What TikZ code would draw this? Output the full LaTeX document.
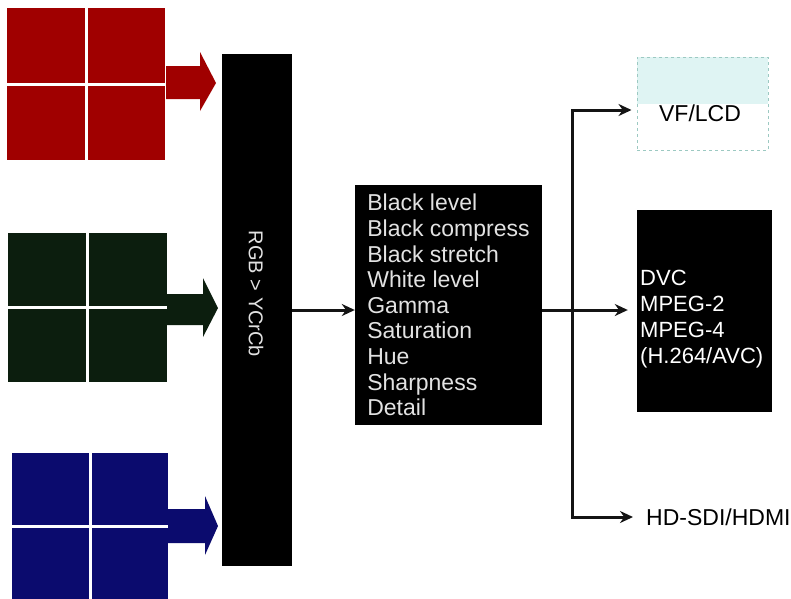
\documentclass[tikz,border=0pt]{standalone}
\usepackage{fontspec}
\setmainfont{Liberation Sans}
\usetikzlibrary{arrows.meta}
\definecolor{cred}{HTML}{A00000}
\definecolor{cgreen}{HTML}{0C1E0E}
\definecolor{cblue}{HTML}{0B0B6E}
\definecolor{cyanfill}{HTML}{DFF4F3}
\definecolor{dashc}{HTML}{9CC9C2}
\definecolor{lgray}{HTML}{E2E2E2}
\definecolor{linec}{HTML}{141414}
\begin{document}
\begin{tikzpicture}[x=1pt,y=-1pt,
  sq/.style={inner sep=0pt, draw=none},
  crossline/.style={white, line width=3pt},
  blackbox/.style={fill=black, inner sep=0pt},
  conn/.style={draw=linec, line width=3pt, line join=miter, -{Stealth[length=13pt,width=12pt]}},
  bigtext/.style={font=\fontsize{23}{25.6}\selectfont}
]
\useasboundingbox (0,0) rectangle (791,598);
\fill[white] (0,0) rectangle (791,598);

% colour squares
\node[sq, fill=cred, minimum width=158pt, minimum height=152pt] (R) at (86,84) {};
\draw[crossline] (R.north) -- (R.south);
\draw[crossline] (R.west) -- (R.east);
\node[sq, fill=cgreen, minimum width=159pt, minimum height=149pt] (G) at (87.5,307.5) {};
\draw[crossline] (G.north) -- (G.south);
\draw[crossline] (G.west) -- (G.east);
\node[sq, fill=cblue, minimum width=156pt, minimum height=147pt] (B) at (90,526.5) {};
\draw[crossline] (B.north) -- (B.south);
\draw[crossline] (B.west) -- (B.east);

% block arrows
\fill[cred] (166,66) -- (200,66) -- (200,52) -- (216,83) -- (200,111) -- (200,99) -- (166,99) -- cycle;
\fill[cgreen] (167,294) -- (203,294) -- (203,278) -- (218,308) -- (203,337) -- (203,325) -- (167,325) -- cycle;
\fill[cblue] (168,509) -- (205,509) -- (205,496) -- (218,526) -- (205,555) -- (205,543) -- (168,543) -- cycle;

% converter bar
\node[blackbox, minimum width=70pt, minimum height=512pt] (bar) at (257,310) {};
\node[rotate=-90, text=lgray, font=\fontsize{20}{24}\selectfont, inner sep=0pt] (bartext) at (256,294) {RGB > YCrCb};

% processing box
\node[blackbox, minimum width=187pt, minimum height=240pt, align=left, text=lgray, bigtext] (proc) at (448.5,305)
  {Black level\\Black compress\\Black stretch\\White level\\Gamma\\Saturation\\Hue\\Sharpness\\Detail};

% VF/LCD
\node[draw=dashc, dashed, line width=1pt, inner sep=0pt, minimum width=131pt, minimum height=93pt,
  path picture={\fill[cyanfill] (path picture bounding box.north west) rectangle (path picture bounding box.east);}] (vf) at (702.5,103.5) {};
\node[bigtext, inner sep=0pt] (vft) at (700,113) {VF/LCD};

% codec box
\node[blackbox, minimum width=135pt, minimum height=202pt] (dvc) at (704.5,311) {};
\node[anchor=west, align=left, text=white, font=\fontsize{22}{26}\selectfont, inner sep=0pt] (dvct) at (640,319)
  {DVC\\MPEG-2\\MPEG-4\\(H.264/AVC)};

% HD-SDI
\node[anchor=west, bigtext, inner sep=0pt] (hd) at (646,517) {HD-SDI/HDMI};

% connectors
\coordinate (split) at (572,310);
\coordinate (top) at (572,110);
\coordinate (bot) at (572,517);
\draw[conn] (bar.east) -- (bar.east -| proc.west);
\draw[conn, shorten >=9pt] (proc.east |- split) -- (split -| dvc.west);
\draw[conn, shorten >=5pt] (split) -- (top) -- (top -| vf.west);
\draw[conn, shorten >=13pt] (split) -- (bot) -- (bot -| hd.west);
\end{tikzpicture}
\end{document}
